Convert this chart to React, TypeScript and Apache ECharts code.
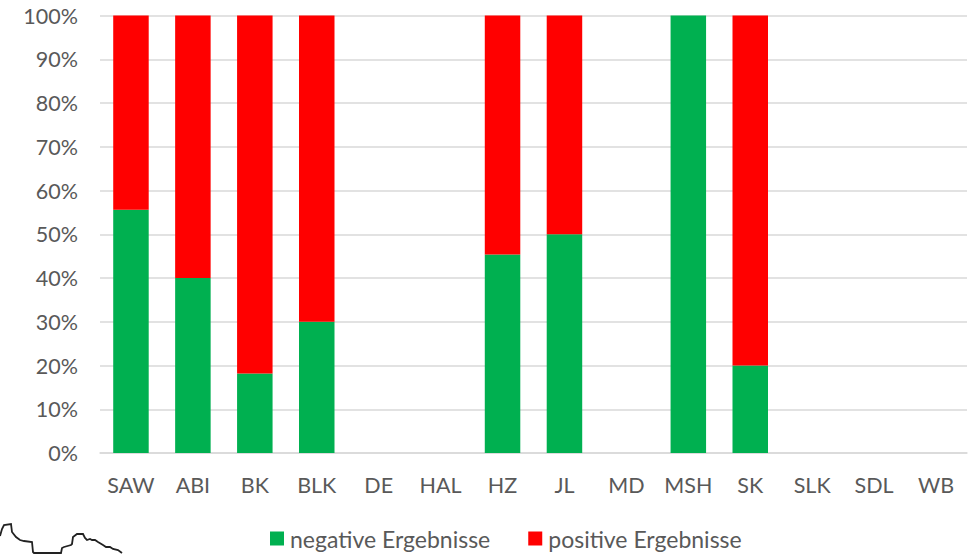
import React, { useEffect, useRef } from "react";
import * as echarts from "echarts";

const categories = ["SAW", "ABI", "BK", "BLK", "DE", "HAL", "HZ", "JL", "MD", "MSH", "SK", "SLK", "SDL", "WB"];
const negativeValues = [55.6, 40, 18.2, 30, null, null, 45.4, 50, null, 100, 20, null, null, null];
const positiveValues = [44.4, 60, 81.8, 70, null, null, 54.6, 50, null, 0, 80, null, null, null];
const outlinePoints = [[0,536],[2,529],[4,525],[11,524],[12,532],[16,537],[20,540],[24,541],[32,542],[33,552],[34,553],[50,553],[61,553],[62,548],[64,547],[71,545],[72,544],[73,537],[77,534],[83,534],[85,538],[87,540],[90,539],[92,540],[95,540],[98,542],[103,545],[106,547],[110,547],[113,549],[118,550],[122,553]];

const FONT = "Lato, Carlito, sans-serif";
const TEXT = "#595959";

export default function App() {
  const ref = useRef<HTMLDivElement>(null);
  useEffect(() => {
    const chart = echarts.init(ref.current!, undefined, { renderer: "svg" });
    chart.setOption({
      animation: false,
      textStyle: { fontFamily: FONT },
      grid: { left: 100, right: 3, top: 15.5, bottom: 102, containLabel: false },
      xAxis: {
        type: "category",
        data: categories,
        axisTick: { show: false },
        axisLine: { lineStyle: { color: "#d9d9d9", width: 1.5 } },
        axisLabel: { color: TEXT, fontSize: 21.5, fontFamily: FONT, margin: 21, interval: 0 },
      },
      yAxis: {
        type: "value",
        min: 0,
        max: 100,
        interval: 10,
        axisLine: { show: false },
        axisTick: { show: false },
        axisLabel: { color: TEXT, fontSize: 21.5, fontFamily: FONT, margin: 22, formatter: "{value}%" },
        splitLine: { lineStyle: { color: "#d9d9d9", width: 1.5 } },
      },
      legend: {
        left: 265,
        top: 522,
        itemWidth: 14,
        itemHeight: 14,
        itemGap: 38,
        icon: "rect",
        textStyle: { color: TEXT, fontSize: 23, fontFamily: FONT, padding: [0, 0, 0, 1] },
        data: ["negative Ergebnisse", "positive Ergebnisse"],
      },
      series: [
        { name: "negative Ergebnisse", type: "bar", stack: "a", data: negativeValues, barWidth: 35.5, itemStyle: { color: "#00b050" } },
        { name: "positive Ergebnisse", type: "bar", stack: "a", data: positiveValues, barWidth: 35.5, itemStyle: { color: "#ff0000" } },
      ],
      graphic: [
        {
          type: "polyline",
          shape: { points: outlinePoints },
          style: { stroke: "#222222", lineWidth: 1.8, fill: "none" },
          silent: true,
        },
      ],
    });
    return () => chart.dispose();
  }, []);
  return <div ref={ref} style={{ position: "absolute", left: 0, top: 0, width: 970, height: 555, background: "#fff" }} />;
}
